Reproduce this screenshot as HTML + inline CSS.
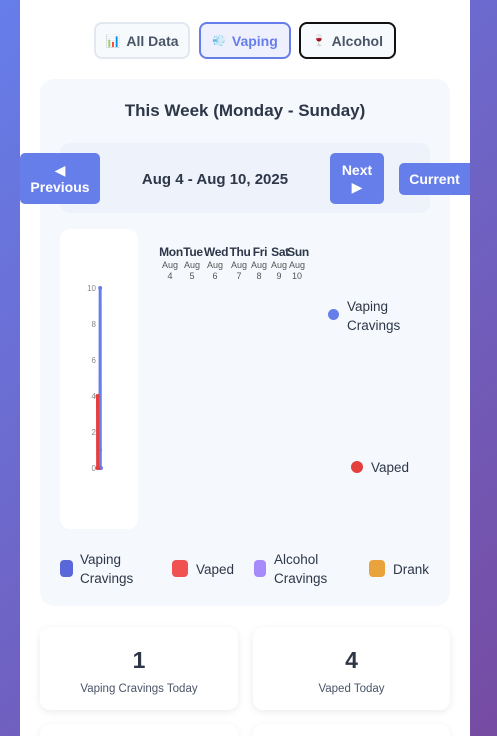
<!DOCTYPE html>
<html><head><meta charset="utf-8"><style>
*{box-sizing:border-box;margin:0;padding:0}
html{width:497px;height:736px;overflow:hidden}
body{width:497px;height:736px;overflow:hidden;background:linear-gradient(135deg,#667eea,#764ba2);font-family:"Liberation Sans","DejaVu Sans",sans-serif;position:relative}
.abs{position:absolute}
#container{left:20px;top:0;width:450px;height:736px;background:#fff}
.tab{top:22px;height:37px;border-radius:8px;font-weight:bold;font-size:14px;display:flex;align-items:center;justify-content:center;gap:6px;color:#4a5568;background:#f7fafc}
.btn{background:#667eea;color:#fff;font-weight:bold;font-size:14px;border-radius:5px;text-align:center;display:flex;flex-direction:column;align-items:center;justify-content:center;line-height:17px}
.sw{width:13px;height:17px;border-radius:4px}
.lg{font-family:"Liberation Sans",sans-serif;font-size:13.5px;color:#2d3748;line-height:19px}
.card{background:#fff;border-radius:10px;box-shadow:0 2px 8px rgba(0,0,0,.08);text-align:center;overflow:hidden}
.card b{display:block;font-size:23px;color:#2d3748;margin-top:20px}
.card span{display:block;font-size:11.5px;color:#4a5568;margin-top:9px}
</style></head><body>
<div id="container" class="abs"></div>
<div class="abs tab" style="left:94px;width:96px;border:2px solid #e2e8f0"><span style="font-size:12px">📊</span>All Data</div>
<div class="abs tab" style="left:199px;width:92px;border:2px solid #667eea;background:#eef0fd;color:#667eea"><span style="font-size:11px">💨</span>Vaping</div>
<div class="abs tab" style="left:299px;width:97px;border:2px solid #111"><span style="font-size:11px">🍷</span>Alcohol</div>

<div class="abs" style="left:40px;top:79px;width:410px;height:527px;background:#f5f8fc;border-radius:14px"></div>
<div class="abs" style="left:40px;top:101px;width:410px;text-align:center;font-weight:bold;font-size:17px;color:#2d3748">This Week (Monday - Sunday)</div>
<div class="abs" style="left:60px;top:143px;width:370px;height:70px;background:#edf2fb;border-radius:10px"></div>
<div class="abs btn" style="left:20px;top:153px;width:80px;height:51px"><span>◀</span><span>Previous</span></div>
<div class="abs" style="left:100px;top:171px;width:230px;text-align:center;font-weight:bold;font-size:15px;color:#2d3748">Aug 4 - Aug 10, 2025</div>
<div class="abs btn" style="left:330px;top:153px;width:54px;height:51px"><span>Next</span><span>▶</span></div>
<div class="abs btn" style="left:399px;top:163px;width:71px;height:32px;border-radius:5px 0 0 5px">Current</div>

<div class="abs" style="left:60px;top:229px;width:78px;height:300px;background:#fff;border-radius:10px"></div>
<svg class="abs" style="left:0;top:0" width="497" height="736">
<g id="ticks"></g><g id="days"></g><g id="lines"></g>
</svg>
<div class="abs" style="left:328px;top:309px;width:11px;height:11px;border-radius:50%;background:#667eea"></div>
<div class="abs lg" style="left:347px;top:297px">Vaping<br>Cravings</div>
<div class="abs" style="left:351px;top:461px;width:12px;height:12px;border-radius:50%;background:#e53e3e"></div>
<div class="abs lg" style="left:371px;top:458px">Vaped</div>

<div class="abs sw" style="left:60px;top:560px;background:#5a67d8"></div>
<div class="abs lg" style="left:80px;top:550px">Vaping<br>Cravings</div>
<div class="abs sw" style="left:172px;top:560px;background:#f05252;width:16px"></div>
<div class="abs lg" style="left:196px;top:560px">Vaped</div>
<div class="abs sw" style="left:254px;top:560px;background:#a78bfa;width:12px"></div>
<div class="abs lg" style="left:274px;top:550px">Alcohol<br>Cravings</div>
<div class="abs sw" style="left:369px;top:560px;background:#e8a33d;width:16px"></div>
<div class="abs lg" style="left:393px;top:560px">Drank</div>

<div class="abs card" style="left:40px;top:627px;width:198px;height:83px"><b>1</b><span>Vaping Cravings Today</span></div>
<div class="abs card" style="left:253px;top:627px;width:197px;height:83px"><b>4</b><span>Vaped Today</span></div>
<div class="abs card" style="left:40px;top:724px;width:198px;height:12px;border-radius:10px 10px 0 0"></div>
<div class="abs card" style="left:253px;top:724px;width:197px;height:12px;border-radius:10px 10px 0 0"></div>
<script>
const days=["Mon","Tue","Wed","Thu","Fri","Sat","Sun"];
const dates=["4","5","6","7","8","9","10"];
const yTicks=[0,2,4,6,8,10];
const cravings=[1,10,0,0,0,0,0];
const vaped=[4,0,0,0,0,0,0];
const NS="http://www.w3.org/2000/svg";
const y=v=>468-v*18;
const x=(i,off)=>off+i*0.15;
const tg=document.getElementById('ticks');
yTicks.forEach(t=>{const e=document.createElementNS(NS,'text');e.setAttribute('x',96);e.setAttribute('y',y(t)+3);e.setAttribute('text-anchor','end');e.setAttribute('font-size','8');e.setAttribute('fill','#888');e.setAttribute('font-family','Liberation Sans Narrow, Liberation Sans, sans-serif');e.textContent=t;


tg.appendChild(e);});
const dg=document.getElementById('days');
const dx=[171,193,216,240,260,280,298];
days.forEach((d,i)=>{const e=document.createElementNS(NS,'text');e.setAttribute('x',dx[i]);e.setAttribute('y',256);e.setAttribute('text-anchor','middle');e.setAttribute('font-size','12');e.setAttribute('font-weight','bold');e.setAttribute('fill','#2d3748');e.setAttribute('font-family','Liberation Sans, sans-serif');e.setAttribute('letter-spacing','-0.3');e.textContent=d;


dg.appendChild(e);
['Aug',dates[i]].forEach((s,k)=>{const t=document.createElementNS(NS,'text');t.setAttribute('x',dx[i]-1);t.setAttribute('y',268+k*11);t.setAttribute('text-anchor','middle');t.setAttribute('font-size','9');t.setAttribute('fill','#555');t.setAttribute('font-family','Liberation Sans, sans-serif');t.textContent=s;


dg.appendChild(t);});});
const lg=document.getElementById('lines');
function series(vals,off,col,w){let d='';vals.forEach((v,i)=>{d+=(i?'L':'M')+x(i,off)+' '+y(v)});const p=document.createElementNS(NS,'path');p.setAttribute('d',d);p.setAttribute('stroke',col);p.setAttribute('stroke-width',w);p.setAttribute('fill','none');


lg.appendChild(p);
vals.forEach((v,i)=>{const c=document.createElementNS(NS,'circle');c.setAttribute('cx',x(i,off));c.setAttribute('cy',y(v));c.setAttribute('r',2);c.setAttribute('fill',col);


lg.appendChild(c);});}
series(cravings,100,'#667eea',3);
series(vaped,97.5,'#e53e3e',3);
</script>
</body></html>
